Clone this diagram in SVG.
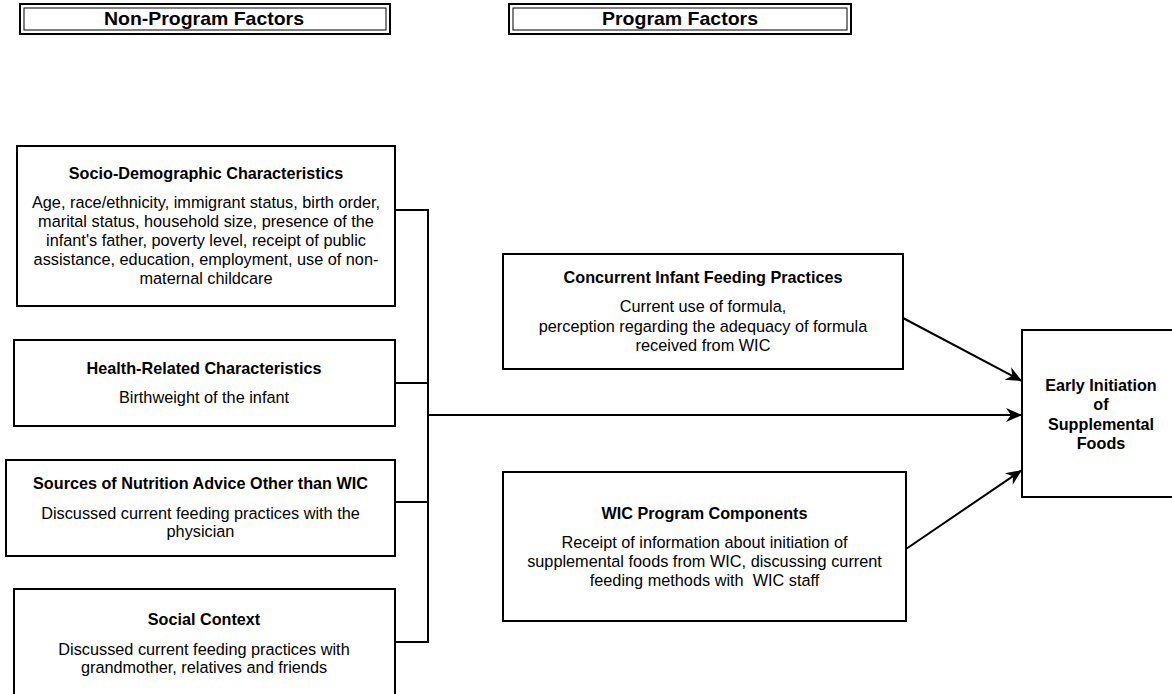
<svg xmlns="http://www.w3.org/2000/svg" width="1172" height="694" viewBox="0 0 1172 694">
<style>
.box{fill:#fff;stroke:#000;stroke-width:2}
.t{font-family:"Liberation Sans",Arial,sans-serif;font-weight:bold;font-size:16.2px;text-anchor:middle;fill:#000}
.b{font-family:"Liberation Sans",Arial,sans-serif;font-size:16.3px;text-anchor:middle;fill:#000}
.h{font-family:"Liberation Sans",Arial,sans-serif;font-weight:bold;font-size:19px;text-anchor:middle;fill:#000}
.c{fill:none;stroke:#000;stroke-width:2}
</style>
<defs>
<marker id="ah" markerUnits="userSpaceOnUse" markerWidth="20" markerHeight="16" refX="16" refY="7" orient="auto" viewBox="0 0 20 14">
<path d="M16,7 L0,0 L5,7 L0,14 Z" fill="#000"/>
</marker>
</defs>
<rect width="1172" height="694" fill="#fff"/>
<g id="hdr-nonprogram">
<rect x="20" y="4" width="370" height="30" fill="#fff" stroke="#000" stroke-width="2"/>
<rect x="24" y="8" width="362" height="22" fill="none" stroke="#000" stroke-width="1"/>
<text class="h" x="204" y="25" textLength="200" lengthAdjust="spacingAndGlyphs">Non-Program Factors</text>
</g>
<g id="hdr-program">
<rect x="509" y="4" width="342" height="30" fill="#fff" stroke="#000" stroke-width="2"/>
<rect x="513" y="8" width="334" height="22" fill="none" stroke="#000" stroke-width="1"/>
<text class="h" x="680" y="25" textLength="156" lengthAdjust="spacingAndGlyphs">Program Factors</text>
</g>
<g id="connectors">
<polyline class="c" points="395,210 428,210 428,642 395,642"/>
<line class="c" x1="395" y1="383" x2="428" y2="383"/>
<line class="c" x1="395" y1="502" x2="428" y2="502"/>
<line class="c" x1="428" y1="415" x2="1022" y2="415" marker-end="url(#ah)"/>
<line class="c" x1="903" y1="318" x2="1022" y2="381" marker-end="url(#ah)"/>
<line class="c" x1="906" y1="549" x2="1022" y2="470" marker-end="url(#ah)"/>
</g>
<g id="socio">
<rect class="box" x="17" y="146" width="378" height="160"/>
<text class="t" x="206" y="179">Socio-Demographic Characteristics</text>
<text class="b" x="206" y="208">Age, race/ethnicity, immigrant status, birth order,</text>
<text class="b" x="206" y="227">marital status, household size, presence of the</text>
<text class="b" x="206" y="246">infant's father, poverty level, receipt of public</text>
<text class="b" x="206" y="265">assistance, education, employment, use of non-</text>
<text class="b" x="206" y="284">maternal childcare</text>
</g>
<g id="health">
<rect class="box" x="14" y="340" width="381" height="86"/>
<text class="t" x="204" y="374">Health-Related Characteristics</text>
<text class="b" x="204" y="403">Birthweight of the infant</text>
</g>
<g id="sources">
<rect class="box" x="6" y="460" width="389" height="96"/>
<text class="t" x="200.5" y="489">Sources of Nutrition Advice Other than WIC</text>
<text class="b" x="200.5" y="519">Discussed current feeding practices with the</text>
<text class="b" x="200.5" y="537">physician</text>
</g>
<g id="social">
<rect class="box" x="14" y="589" width="381" height="120"/>
<text class="t" x="204" y="625">Social Context</text>
<text class="b" x="204" y="655">Discussed current feeding practices with</text>
<text class="b" x="204" y="673">grandmother, relatives and friends</text>
</g>
<g id="concurrent">
<rect class="box" x="503" y="254" width="400" height="115"/>
<text class="t" x="703" y="283">Concurrent Infant Feeding Practices</text>
<text class="b" x="703" y="312">Current use of formula,</text>
<text class="b" x="703" y="332">perception regarding the adequacy of formula</text>
<text class="b" x="703" y="351">received from WIC</text>
</g>
<g id="wic">
<rect class="box" x="503" y="472" width="403" height="149"/>
<text class="t" x="704.5" y="519">WIC Program Components</text>
<text class="b" x="704.5" y="548">Receipt of information about initiation of</text>
<text class="b" x="704.5" y="567">supplemental foods from WIC, discussing current</text>
<text class="b" x="704.5" y="586" xml:space="preserve">feeding methods with  WIC staff</text>
</g>
<g id="early">
<rect class="box" x="1022" y="330" width="160" height="167"/>
<text class="t" x="1101" y="391">Early Initiation</text>
<text class="t" x="1101" y="410">of</text>
<text class="t" x="1101" y="430">Supplemental</text>
<text class="t" x="1101" y="449">Foods</text>
</g>
</svg>
